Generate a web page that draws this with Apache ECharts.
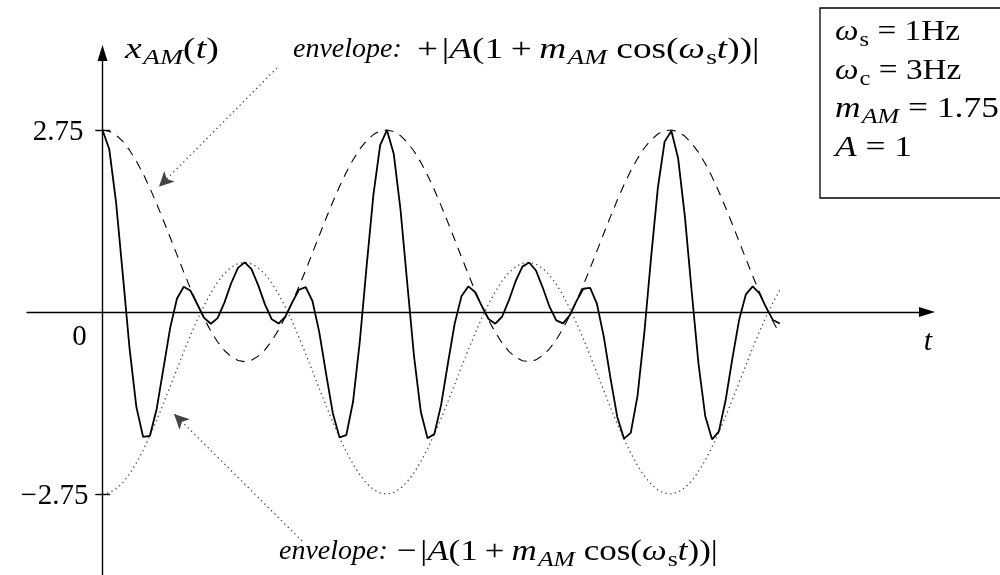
<!DOCTYPE html>
<html>
<head>
<meta charset="utf-8">
<script src="https://cdn.jsdelivr.net/npm/echarts@6/dist/echarts.min.js"></script>
<style>
  html, body { margin: 0; padding: 0; background: #fff; }
  #chart { width: 1000px; height: 575px; }
</style>
</head>
<body>
<div id="chart"></div>
<script>
// Sample times t (s)
const T = [0, 0.15, 0.3, 0.45, 0.6, 0.75, 0.9, 1.05, 1.2, 1.35, 1.5, 1.65, 1.8, 1.95, 2.1, 2.25, 2.4, 2.55, 2.7, 2.85,
  3, 3.15, 3.3, 3.45, 3.6, 3.75, 3.9, 4.05, 4.2, 4.35, 4.5, 4.65, 4.8, 4.95, 5.1, 5.25, 5.4, 5.55, 5.7, 5.85,
  6, 6.15, 6.3, 6.45, 6.6, 6.75, 6.9, 7.05, 7.2, 7.35, 7.5, 7.65, 7.8, 7.95, 8.1, 8.25, 8.4, 8.55, 8.7, 8.85,
  9, 9.15, 9.3, 9.45, 9.6, 9.75, 9.9, 10.05, 10.2, 10.35, 10.5, 10.65, 10.8, 10.95, 11.1, 11.25, 11.4, 11.55, 11.7, 11.85,
  12, 12.15, 12.3, 12.45, 12.6, 12.75, 12.9, 13.05, 13.2, 13.35, 13.5, 13.65, 13.8, 13.95, 14.1, 14.25, 14.4, 14.55, 14.7, 14.85, 15];

// AM signal x_AM(t)
const X_AM = [2.750, 2.459, 1.661, 0.564, -0.555, -1.433, -1.888, -1.871, -1.465, -0.851,
  -0.237, 0.203, 0.382, 0.320, 0.117, -0.089, -0.177, -0.092, 0.142, 0.434,
  0.667, 0.750, 0.647, 0.402, 0.111, -0.110, -0.175, -0.070, 0.142, 0.336,
  0.375, 0.166, -0.300, -0.923, -1.525, -1.894, -1.860, -1.353, -0.438, 0.693,
  1.770, 2.519, 2.746, 2.391, 1.548, 0.434, -0.670, -1.507, -1.909, -1.842,
  -1.403, -0.778, -0.176, 0.236, 0.386, 0.301, 0.091, -0.106, -0.176, -0.072,
  0.174, 0.465, 0.685, 0.747, 0.626, 0.369, 0.080, -0.126, -0.171, -0.049,
  0.167, 0.351, 0.365, 0.125, -0.364, -0.996, -1.582, -1.913, -1.827, -1.268,
  -0.317, 0.822, 1.875, 2.573, 2.735, 2.318, 1.432, 0.305, -0.781, -1.575,
  -1.924, -1.808, -1.338, -0.706, -0.119, 0.267, 0.387, 0.282, 0.066, -0.122, -0.173];

// Upper envelope (dashed)
const ENV_UPPER = [2.750, 2.730, 2.672, 2.576, 2.444, 2.280, 2.088, 1.871, 1.634, 1.383,
  1.124, 0.862, 0.602, 0.352, 0.117, -0.099, -0.290, -0.453, -0.582, -0.676,
  -0.732, -0.750, -0.728, -0.667, -0.569, -0.436, -0.270, -0.076, 0.142, 0.380,
  0.631, 0.891, 1.153, 1.412, 1.661, 1.896, 2.111, 2.300, 2.461, 2.588,
  2.680, 2.735, 2.750, 2.726, 2.663, 2.563, 2.428, 2.260, 2.065, 1.845,
  1.607, 1.354, 1.094, 0.832, 0.574, 0.325, 0.091, -0.122, -0.307, -0.469,
  -0.594, -0.684, -0.736, -0.749, -0.723, -0.658, -0.556, -0.419, -0.250, -0.053,
  0.168, 0.407, 0.660, 0.920, 1.182, 1.440, 1.689, 1.921, 2.133, 2.320,
  2.477, 2.600, 2.688, 2.738, 2.749, 2.721, 2.654, 2.549, 2.410, 2.240,
  2.041, 1.819, 1.579, 1.326, 1.065, 0.803, 0.545, 0.298, 0.066, -0.144, -0.329];

// Lower envelope (dotted)
const ENV_LOWER = [-2.750, -2.730, -2.672, -2.576, -2.444, -2.280, -2.088, -1.871, -1.634, -1.383,
  -1.124, -0.862, -0.602, -0.352, -0.117, 0.099, 0.290, 0.453, 0.582, 0.676,
  0.732, 0.750, 0.728, 0.667, 0.569, 0.436, 0.270, 0.076, -0.142, -0.380,
  -0.631, -0.891, -1.153, -1.412, -1.661, -1.896, -2.111, -2.300, -2.461, -2.588,
  -2.680, -2.735, -2.750, -2.726, -2.663, -2.563, -2.428, -2.260, -2.065, -1.845,
  -1.607, -1.354, -1.094, -0.832, -0.574, -0.325, -0.091, 0.122, 0.307, 0.469,
  0.594, 0.684, 0.736, 0.749, 0.723, 0.658, 0.556, 0.419, 0.250, 0.053,
  -0.168, -0.407, -0.660, -0.920, -1.182, -1.440, -1.689, -1.921, -2.133, -2.320,
  -2.477, -2.600, -2.688, -2.738, -2.749, -2.721, -2.654, -2.549, -2.410, -2.240,
  -2.041, -1.819, -1.579, -1.326, -1.065, -0.803, -0.545, -0.298, -0.066, 0.144, 0.329];

// Labelled ticks on the vertical axis
const Y_TICKS = [2.75, -2.75];
const Y_TICK_LABELS = ['2.75', '\u22122.75'];

// Annotation arrows: [tail, head] in (t, value)
const ARROW_UPPER = [[3.865, 3.686], [1.25, 1.89]];
const ARROW_LOWER = [[4.42, -3.459], [1.585, -1.54]];

const FONT = 'Liberation Serif';
const FS = 30;     // math size
const SUB = 22;    // subscript size
const base = { fill: '#000', color: '#000', fontFamily: FONT };
const rich = {
  mi: Object.assign({ fontStyle: 'italic', fontSize: FS, lineHeight: 42 }, base),
  rm: Object.assign({ fontSize: FS, lineHeight: 42 }, base),
  op: Object.assign({ fontSize: FS, lineHeight: 42, padding: [0, 3, 0, 0] }, base),
  bo: Object.assign({ fontSize: FS, lineHeight: 42, padding: [0, 6, 0, 6] }, base),
  si: Object.assign({ fontStyle: 'italic', fontSize: SUB, padding: [16, 0, 0, 1] }, base),
  sr: Object.assign({ fontSize: SUB, padding: [16, 0, 0, 1] }, base)
};

function mathText(x, y, text, sx) {
  return { type: 'text', x: x, y: y, scaleX: sx, silent: true,
    style: { text: text, rich: rich, textVerticalAlign: 'middle' } };
}
function plainText(x, y, text, italic, size, align) {
  return { type: 'text', x: x, y: y, silent: true,
    style: { text: text, font: (italic ? 'italic ' : '') + size + 'px "' + FONT + '"', fill: '#000',
      textAlign: align || 'left', textVerticalAlign: 'middle' } };
}

const pairs = (ys) => T.map((t, i) => [t, ys[i]]);

const chart = echarts.init(document.getElementById('chart'), null, { renderer: 'canvas' });

const AXIS_W = 1.4;
const ENVELOPE_MATH = '|}{mi|A}{rm|(1}{bo|+}{mi|m}{si|AM}{rm| cos(}{mi|ω}{sr|s}{mi|t}{rm|))|}';

chart.setOption({
  animation: false,
  backgroundColor: '#fff',
  grid: { left: 27, right: 73, top: 53, bottom: 0, outerBoundsMode: 'none', containLabel: false },
  xAxis: {
    type: 'value', min: -1.672, max: 18.261,
    splitLine: { show: false },
    axisTick: { show: false },
    axisLabel: { show: false },
    axisLine: { show: true, onZero: true, symbol: ['none', 'triangle'], symbolSize: [10, 16],
      lineStyle: { color: '#000', width: AXIS_W } }
  },
  yAxis: {
    type: 'value', min: -3.973, max: 3.912,
    splitLine: { show: false },
    axisTick: { show: false },
    axisLabel: { show: false },
    axisLine: { show: true, onZero: true, symbol: ['none', 'triangle'], symbolSize: [10, 16],
      lineStyle: { color: '#000', width: AXIS_W } }
  },
  series: [
    {
      name: 'upper envelope', type: 'line', data: pairs(ENV_UPPER), showSymbol: false, silent: true,
      lineStyle: { color: '#000', width: 1.1, type: [9, 7] }, z: 2
    },
    {
      name: 'lower envelope', type: 'line', data: pairs(ENV_LOWER), showSymbol: false, silent: true,
      lineStyle: { color: '#444', width: 1.3, type: [1.3, 3.4] }, z: 2,
      markLine: {
        silent: true, animation: false,
        label: { show: false },
        symbol: ['none', 'none'],
        lineStyle: { color: '#444', width: 1.3, type: [1.3, 3.4] },
        data: [ARROW_UPPER, ARROW_LOWER].map(a => [
          { coord: a[0], symbol: 'none' },
          { coord: a[1], symbol: 'arrow', symbolSize: [11, 15], itemStyle: { color: '#111' } }
        ])
      }
    },
    {
      name: 'x_AM(t)', type: 'line', data: pairs(X_AM), showSymbol: false, silent: true,
      lineStyle: { color: '#000', width: 1.8 }, z: 3,
      markLine: {
        silent: true, animation: false,
        label: { show: false },
        symbol: ['none', 'none'],
        lineStyle: { color: '#000', width: AXIS_W, type: 'solid' },
        data: Y_TICKS.map(v => [{ coord: [-0.16, v] }, { coord: [0.17, v] }])
      },
      markPoint: {
        silent: true, animation: false,
        symbol: 'circle', symbolSize: 0,
        itemStyle: { color: 'transparent' },
        label: {
          show: true, color: '#000', fontFamily: FONT, fontSize: 29,
          formatter: (p) => p.name.charAt(0) === '\u2212' ? '{m|\u2212}{d|' + p.name.slice(1) + '}' : '{d|' + p.name + '}',
          rich: {
            m: { fontFamily: FONT, fontSize: 29, color: '#000', padding: [0, 1, 0, 0] },
            d: { fontFamily: FONT, fontSize: 29, color: '#000' }
          }
        },
        data: Y_TICKS.map((v, i) => ({
          name: Y_TICK_LABELS[i], coord: [0, v],
          label: { position: 'left', distance: v < 0 ? 14 : 19, offset: [0, 2] }
        })).concat([{
          name: '0', coord: [0, 0],
          label: { position: 'inside', offset: [-23, 25], align: 'center', verticalAlign: 'middle' }
        }])
      }
    }
  ],
  graphic: [
    plainText(928, 342, 't', true, FS, 'center'),
    mathText(125, 50, '{mi|x}{si|AM}{rm|(}{mi|t}{rm|)}', 1.26),
    plainText(293, 50, 'envelope:', true, 28),
    mathText(417, 50, '{op|+}{rm|' + ENVELOPE_MATH, 1.245),
    plainText(279, 552, 'envelope:', true, 28),
    mathText(397, 552, '{op|\u2212}{rm|' + ENVELOPE_MATH, 1.166),
    { type: 'rect', shape: { x: 820, y: 8, width: 260, height: 190 }, style: { fill: '#fff', stroke: '#000', lineWidth: 1.3 } },
    mathText(835, 32, '{mi|ω}{sr|s}{rm| = 1Hz}', 1.11),
    mathText(835, 71, '{mi|ω}{sr|c}{rm| = 3Hz}', 1.11),
    mathText(835, 109, '{mi|m}{si|AM}{rm| = 1.75}', 1.18),
    mathText(835, 148, '{mi|A}{rm| = 1}', 1.18)
  ]
});
</script>
</body>
</html>
